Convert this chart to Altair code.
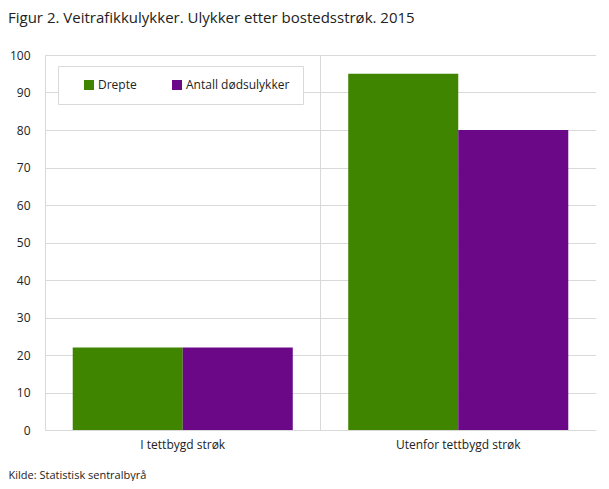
import altair as alt
import pandas as pd

categories = ["I tettbygd strøk", "Utenfor tettbygd strøk"]
series = ["Drepte", "Antall dødsulykker"]
drepte = [22, 95]
dodsulykker = [22, 80]
colors = ["#3f8500", "#6a0888"]
y_ticks = list(range(0, 101, 10))

rows = []
for i, c in enumerate(categories):
    rows.append({"kategori": c, "serie": series[0], "verdi": drepte[i]})
    rows.append({"kategori": c, "serie": series[1], "verdi": dodsulykker[i]})
df = pd.DataFrame(rows)

FONT = "Open Sans"
GRID = "#d9d9d9"

chart = alt.Chart(df).mark_bar().encode(
    x=alt.X(
        "kategori:N",
        sort=categories,
        scale=alt.Scale(paddingInner=0, paddingOuter=0),
        axis=alt.Axis(
            title="Kilde: Statistisk sentralbyrå",
            titleAnchor="start",
            titleAlign="left",
            titleX=-37,
            titleY=48,
            titleBaseline="alphabetic",
            titleFont=FONT,
            titleFontSize=11,
            titleFontWeight="normal",
            titleColor="#222",
            labelAngle=0,
            labelFont=FONT,
            labelFontSize=12,
            labelColor="#222",
            labelPadding=9,
            ticks=False,
            domainColor=GRID,
            grid=True,
            gridColor=GRID,
            bandPosition=0,
        ),
    ),
    xOffset=alt.XOffset(
        "serie:N",
        sort=series,
        scale=alt.Scale(paddingOuter=0.252, paddingInner=0),
    ),
    y=alt.Y(
        "verdi:Q",
        scale=alt.Scale(domain=[0, 100], nice=False),
        axis=alt.Axis(
            title=None,
            values=y_ticks,
            labelFont=FONT,
            labelFontSize=12,
            labelColor="#222",
            labelPadding=15,
            ticks=False,
            domain=False,
            gridColor=GRID,
        ),
    ),
    color=alt.Color(
        "serie:N",
        sort=series,
        scale=alt.Scale(domain=series, range=colors),
        legend=alt.Legend(
            title=None,
            orient="none",
            legendX=13,
            legendY=11,
            direction="horizontal",
            fillColor="white",
            strokeColor=GRID,
            padding=13,
            symbolOffset=12,
            symbolType="square",
            symbolSize=100,
            symbolStrokeWidth=0,
            labelFont=FONT,
            labelFontSize=12,
            labelColor="#222",
            labelOffset=3,
            columnPadding=22,
        ),
    ),
).properties(
    width=551,
    height=375,
    padding={"left": 37, "top": 47, "right": 0, "bottom": 51},
    autosize=alt.AutoSizeParams(type="none"),
    title=alt.TitleParams(
        "Figur 2. Veitrafikkulykker. Ulykker etter bostedsstrøk. 2015",
        anchor="start",
        frame="group",
        dx=-37,
        offset=23,
        font=FONT,
        fontSize=15,
        fontWeight="normal",
        color="#222",
    ),
).configure_view(stroke=GRID)

chart.save("out.html", embed_options={"renderer": "svg", "actions": False})
